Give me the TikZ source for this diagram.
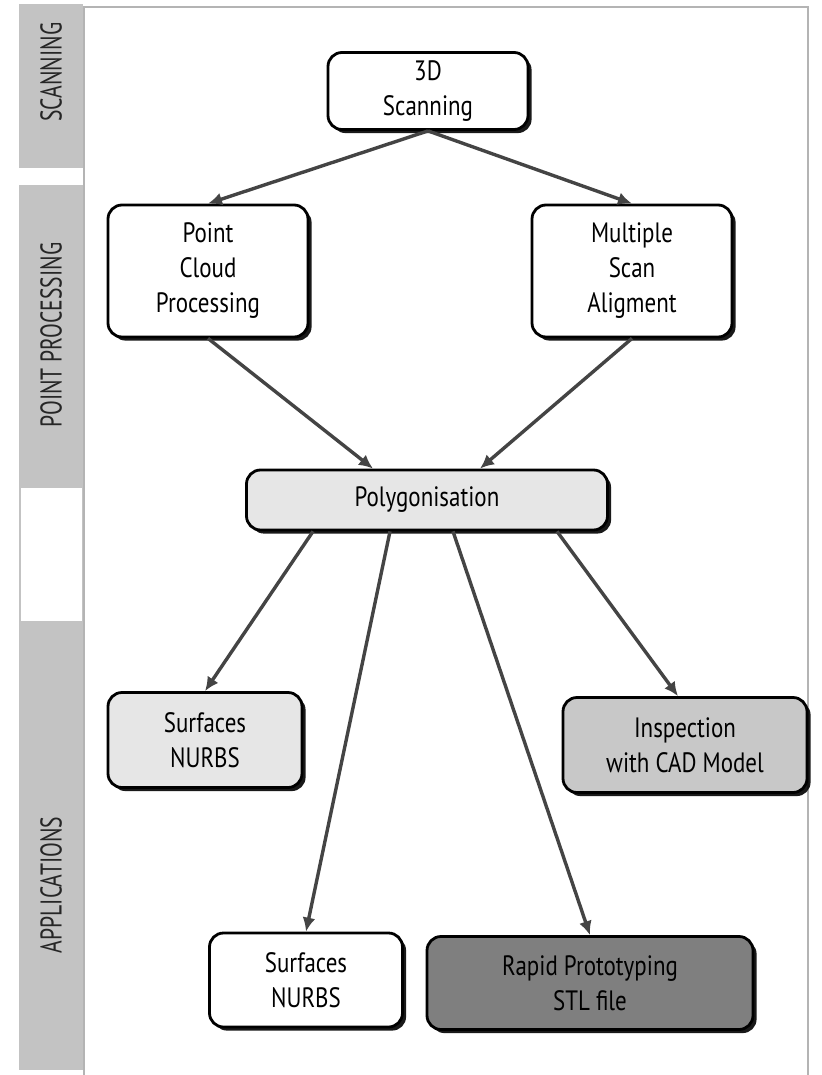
\documentclass[tikz,border=0pt]{standalone}
\usepackage{fontspec}
\setmainfont{PT Sans}[FakeStretch=0.82]
\newfontfamily\franjafont{PT Sans}[FakeStretch=0.72]
\usetikzlibrary{arrows.meta,calc,shadows}
\definecolor{GrisFranja}{HTML}{C3C3C3}
\definecolor{GrisMarco}{HTML}{B4B4B4}
\definecolor{GrisClaro}{HTML}{E6E6E6}
\definecolor{GrisMedio}{HTML}{C8C8C8}
\definecolor{GrisOscuro}{HTML}{7F7F7F}
\definecolor{GrisFlecha}{HTML}{444444}
\tikzset{
  caja/.style   = {draw=black, line width=1.4pt, rounded corners=7pt, align=center,
                   fill=white, font=\fontsize{14}{17.5}\selectfont, text=black, inner sep=2pt,
                   drop shadow={shadow xshift=1.8pt, shadow yshift=-1.8pt, fill=black, opacity=0.9}},
  flecha/.style = {-{Latex[length=7pt,width=6.5pt]}, line width=1.7pt, draw=GrisFlecha},
  rotulo/.style = {rotate=90, font=\franjafont\fontsize{15}{18}\selectfont, text=black!85},
}

\begin{document}
\begin{tikzpicture}[x=0.5pt,y=-0.5pt]
  \useasboundingbox (0,0) rectangle (821,1075);
  % franjas de la izquierda
  \fill[GrisFranja] (19,4) rectangle (83,168);
  \fill[GrisFranja] (19,185) rectangle (83,487);
  \draw[GrisFranja, line width=1pt, fill=white] (19.5,487) rectangle (83,622);
  \fill[GrisFranja] (19,622) rectangle (83,1070);
  \draw[GrisMarco, line width=1.2pt] (84,1075) -- (84,7) -- (808,7) -- (808,1075);
  \node[rotulo] (tscan) at (51,72)  {SCANNING};
  \node[rotulo] (tproc) at (51,335) {POINT PROCESSING};
  \node[rotulo] (tapp)  at (51,885) {APPLICATIONS};
  % cajas
  \node[caja, minimum width=100pt, minimum height=38.5pt] (scan) at (428,91) {3D\\Scanning};
  \node[caja, minimum width=100pt, minimum height=66pt] (pc) at (208,271) {Point\\Cloud\\Processing};
  \node[caja, minimum width=100pt, minimum height=66pt] (msa) at (632,271) {Multiple\\Scan\\Aligment};
  \node[caja, fill=GrisClaro, minimum width=180.5pt, minimum height=30pt] (poly) at (427,500) {Polygonisation};
  \node[caja, fill=GrisClaro, minimum width=97pt, minimum height=47.5pt] (surf1) at (205,740) {Surfaces\\NURBS};
  \node[caja, fill=GrisMedio, minimum width=122pt, minimum height=47.5pt] (insp) at (685,745) {Inspection\\with CAD Model};
  \node[caja, minimum width=96.5pt, minimum height=47pt] (surf2) at (306,980) {Surfaces\\NURBS};
  \node[caja, fill=GrisOscuro, minimum width=163pt, minimum height=46.5pt] (rp) at (590,983) {Rapid Prototyping\\STL file};
  % flechas
  \draw[flecha] (scan.south) -- (pc.north);
  \draw[flecha] (scan.south) -- (msa.north);
  \draw[flecha] (pc.south) -- ($(poly.north)+(-54,0)$);
  \draw[flecha] (msa.south) -- ($(poly.north)+(53,0)$);
  \draw[flecha] ($(poly.south)+(-114,0)$) -- (surf1.north);
  \draw[flecha] ($(poly.south)+(-37,0)$) -- (surf2.north);
  \draw[flecha] ($(poly.south)+(26,0)$) -- (rp.north);
  \draw[flecha] ($(poly.south)+(130,0)$) -- ($(insp.north)+(-7,0)$);
\end{tikzpicture}
\end{document}
